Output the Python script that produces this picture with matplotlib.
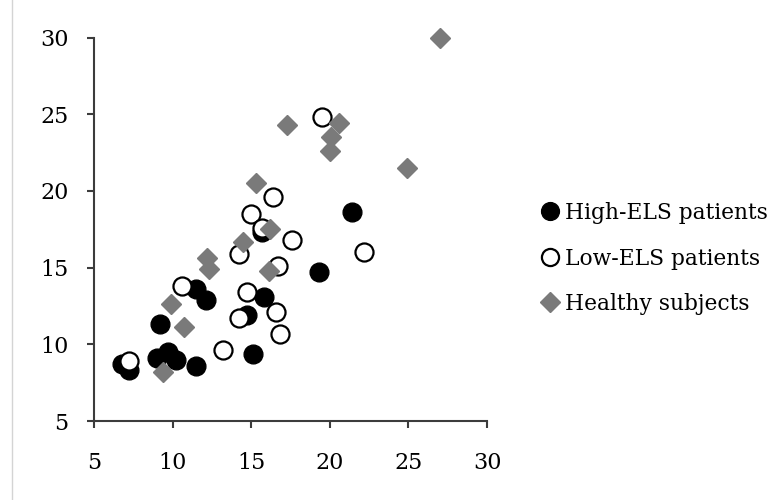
import matplotlib
matplotlib.use("Agg")
import matplotlib.pyplot as plt
from matplotlib.lines import Line2D

plt.rcParams.update({"font.family": "DejaVu Serif", "font.size": 16})

# High-ELS patients (filled black circles)
high_x = [6.8, 7.2, 9.0, 9.7, 10.2, 9.2, 11.5, 11.5, 12.1, 14.7, 15.1, 15.8, 15.7, 19.3, 21.4]
high_y = [8.7, 8.3, 9.1, 9.5, 9.0, 11.3, 8.6, 13.6, 12.9, 11.9, 9.4, 13.1, 17.3, 14.7, 18.6]

# Low-ELS patients (open circles)
low_x = [7.2, 10.6, 13.2, 14.2, 14.2, 14.7, 15.0, 15.7, 16.4, 16.6, 16.7, 16.8, 17.6, 19.5, 22.2]
low_y = [8.9, 13.8, 9.6, 11.7, 15.9, 13.4, 18.5, 17.6, 19.6, 12.1, 15.1, 10.7, 16.8, 24.8, 16.0]

# Healthy subjects (grey diamonds)
healthy_x = [9.4, 10.7, 9.9, 12.2, 12.3, 14.5, 15.3, 16.1, 16.2, 17.3, 20.6, 20.1, 20.0, 24.9, 27.0]
healthy_y = [8.2, 11.1, 12.6, 15.6, 14.9, 16.7, 20.5, 14.8, 17.5, 24.3, 24.4, 23.5, 22.6, 21.5, 30.0]

ticks = [5, 10, 15, 20, 25, 30]
GREY = "#7a7a7a"
AXIS = "#3c3c3c"

fig = plt.figure(figsize=(7.7, 5), dpi=100)
ax = fig.add_axes([0.1221, 0.158, 0.5104, 0.767])

ax.plot(high_x, high_y, "o", ms=13.5, color="black", mec="black",
        ls="none", label="High-ELS patients", zorder=2, clip_on=False)
ax.plot(low_x, low_y, "o", ms=13, mfc="white", mec="black", mew=1.6,
        ls="none", label="Low-ELS patients", zorder=3, clip_on=False)
ax.plot(healthy_x, healthy_y, "D", ms=10.5, color=GREY, mec=GREY,
        ls="none", label="Healthy subjects", zorder=4, clip_on=False)

ax.set_xlim(5, 30)
ax.set_ylim(5, 30)
ax.set_xticks(ticks)
ax.set_yticks(ticks)
for side in ("top", "right"):
    ax.spines[side].set_visible(False)
for side in ("left", "bottom"):
    ax.spines[side].set_color(AXIS)
    ax.spines[side].set_linewidth(1.5)
ax.tick_params(direction="out", length=5.2, width=1.5, color=AXIS, labelsize=16)
ax.tick_params(axis="x", pad=17)
ax.tick_params(axis="y", pad=13)

ax.legend(loc="center left", bbox_to_anchor=(541 / 770, 0.483),
          bbox_transform=fig.transFigure, frameon=False, borderaxespad=0,
          handlelength=0.8, handletextpad=0.28, labelspacing=1.08,
          markerscale=0.95, fontsize=15.7, borderpad=0)

# faint frame edge on the left
fig.add_artist(Line2D([12 / 770, 12 / 770], [0, 1], color="#d4d4d4", lw=1))

fig.savefig("out.png", dpi=100)
